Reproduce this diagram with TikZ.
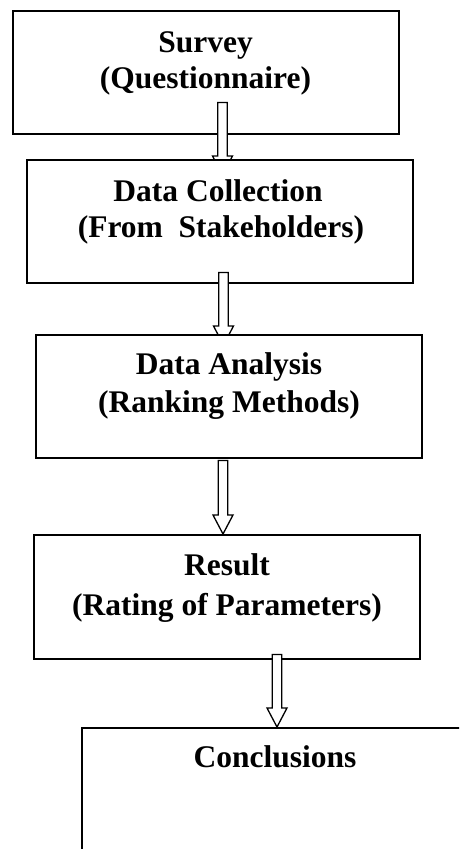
\documentclass[tikz,border=0pt]{standalone}
\usepackage{fontspec}
\setmainfont{Liberation Serif}
\usetikzlibrary{calc}
\begin{document}
\begin{tikzpicture}[x=1pt,y=-1pt,
  stagebox/.style={draw=black, line width=2pt, fill=white, outer sep=0pt, inner sep=0pt, anchor=north west},
  label/.style={font=\bfseries\fontsize{31.5}{36}\selectfont, anchor=base, inner sep=0pt},
  blockarrow/.style={draw=black, line width=1.3pt, fill=white, line join=miter}]
\clip (0,0) rectangle (459,849);
\fill[white] (0,0) rectangle (459,849);
% box 1
\node[stagebox, minimum width=385.5pt, minimum height=123.5pt] (b1) at (13,10.5) {};
\node[label] (t1a) at (205.5,52) {Survey};
\node[label] (t1b) at (205.5,88) {(Questionnaire)};
% arrow 1
\coordinate (a1s) at (222.5,102.5);
\coordinate (a1e) at (222.5,175);
\draw[blockarrow] ($(a1s)+(-4.8,0)$) -- ($(a1s)+(4.8,0)$) -- ($(a1e)+(4.8,-19)$) -- ($(a1e)+(10,-19)$) -- (a1e) -- ($(a1e)+(-10,-19)$) -- ($(a1e)+(-4.8,-19)$) -- cycle;
% box 2
\node[stagebox, minimum width=385.7pt, minimum height=123.2pt] (b2) at (27.3,159.5) {};
\node[label] (t2a) at (218,201) {Data Collection};
\node[label] (t2b) at (221,237) {(From~~Stakeholders)};
% arrow 2
\coordinate (a2s) at (223.5,272.5);
\coordinate (a2e) at (223.5,345);
\draw[blockarrow] ($(a2s)+(-4.8,0)$) -- ($(a2s)+(4.8,0)$) -- ($(a2e)+(4.8,-19)$) -- ($(a2e)+(10,-19)$) -- (a2e) -- ($(a2e)+(-10,-19)$) -- ($(a2e)+(-4.8,-19)$) -- cycle;
% box 3
\node[stagebox, minimum width=385.7pt, minimum height=123.3pt] (b3) at (36,335) {};
\node[label] (t3a) at (229,374) {Data Analysis};
\node[label] (t3b) at (229,412) {(Ranking Methods)};
% arrow 3
\coordinate (a3s) at (223,460.5);
\coordinate (a3e) at (223,534);
\draw[blockarrow] ($(a3s)+(-4.8,0)$) -- ($(a3s)+(4.8,0)$) -- ($(a3e)+(4.8,-19)$) -- ($(a3e)+(10,-19)$) -- (a3e) -- ($(a3e)+(-10,-19)$) -- ($(a3e)+(-4.8,-19)$) -- cycle;
% box 4
\node[stagebox, minimum width=386pt, minimum height=124pt] (b4) at (34,535) {};
\node[label] (t4a) at (227,575) {Result};
\node[label] (t4b) at (227,615) {(Rating of Parameters)};
% arrow 4
\coordinate (a4s) at (277,654.5);
\coordinate (a4e) at (277,727);
\draw[blockarrow] ($(a4s)+(-4.8,0)$) -- ($(a4s)+(4.8,0)$) -- ($(a4e)+(4.8,-19)$) -- ($(a4e)+(10,-19)$) -- (a4e) -- ($(a4e)+(-10,-19)$) -- ($(a4e)+(-4.8,-19)$) -- cycle;
% box 5
\node[stagebox, minimum width=386pt, minimum height=128pt] (b5) at (82,727.7) {};
\node[label] (t5a) at (275,767) {Conclusions};
\end{tikzpicture}
\end{document}
